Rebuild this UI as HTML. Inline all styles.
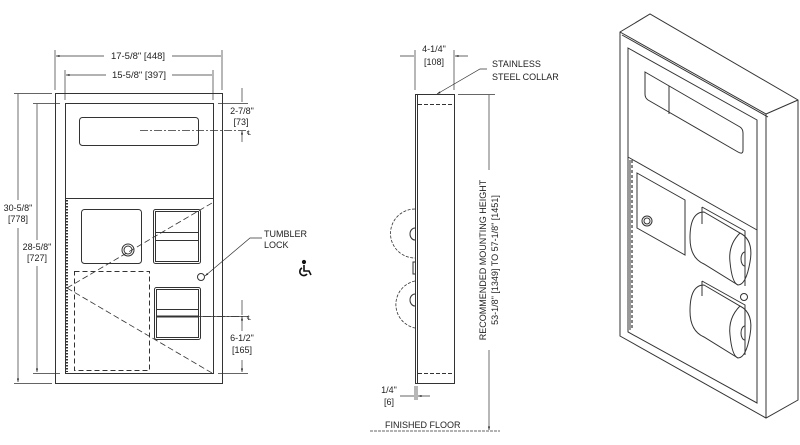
<!DOCTYPE html>
<html><head><meta charset="utf-8"><style>
html,body{margin:0;padding:0;background:#fff}
svg{display:block}
text{font-family:"Liberation Sans",Arial,sans-serif;font-size:9px;fill:#222}
</style></head><body>
<svg width="800" height="445" viewBox="0 0 800 445" xmlns="http://www.w3.org/2000/svg">
<defs>
<marker id="a" viewBox="0 0 10 10" refX="10" refY="5" markerWidth="7" markerHeight="5" orient="auto-start-reverse"><path d="M0,2 L10,5 L0,8z" fill="#222"/></marker>
</defs>
<g stroke="#333" fill="none" stroke-width="1">
<!-- FRONT VIEW -->
<rect x="55.5" y="93.5" width="167" height="290"/>
<rect x="65.5" y="103.5" width="148" height="270"/>
<rect x="79.5" y="117.5" width="119" height="28" rx="3"/>
<line x1="65" y1="198.5" x2="213" y2="198.5"/>
<line x1="67" y1="200" x2="67" y2="372" stroke-dasharray="1.5,1.5" stroke-width="2"/>
<rect x="81.5" y="209.5" width="60" height="54" rx="3"/>
<rect x="153.5" y="209.5" width="47" height="54" rx="2"/>
<rect x="155.5" y="211.5" width="43" height="50"/>
<line x1="155" y1="232.5" x2="199" y2="232.5"/><line x1="155" y1="240.5" x2="199" y2="240.5"/>
<circle cx="128" cy="250" r="6"/><circle cx="128" cy="250" r="4"/>
<rect x="74.5" y="271.5" width="75" height="99" stroke-dasharray="5,3"/>
<rect x="154.5" y="287.5" width="46" height="52" rx="2"/>
<rect x="156.5" y="289.5" width="42" height="48"/>
<line x1="156" y1="309.5" x2="199" y2="309.5"/><line x1="156" y1="316.5" x2="199" y2="316.5" stroke-width="2"/>
<circle cx="201" cy="277" r="3.5"/>
<path d="M67,288 L212,203 M67,288 L212,373" stroke-dasharray="6,3" stroke-width="0.8"/>
<!-- dims -->
<path d="M55,50 V90 M222,50 V90 M65,70 V100 M213,70 V100" stroke-width="0.7"/>
<path d="M56,56 H104 M221,56 H172" marker-start="url(#a)" stroke-width="0.7"/>
<path d="M66,75 H106 M212,75 H172" marker-start="url(#a)" stroke-width="0.7"/>
<path d="M14,93.5 H52 M33,103.5 H60 M14,383.5 H52 M33,373.5 H60 M218,103.5 H248 M218,373.5 H248 M200,316.5 H248" stroke-width="0.7"/>
<path d="M18,200 V94 M18,228 V382" marker-end="url(#a)" stroke-width="0.7"/>
<path d="M37,240 V104 M37,266 V372" marker-end="url(#a)" stroke-width="0.7"/>
<path d="M242,88 V102 M242,142 V131" marker-end="url(#a)" stroke-width="0.7"/>
<path d="M242,300 V315 M242,360 V372" marker-end="url(#a)" stroke-width="0.7"/>
<path d="M242,331 V317" marker-end="url(#a)" stroke-width="0.7"/>
<path d="M140,130.5 H246 M175,316.5 H245" stroke-dasharray="8,2,2,2" stroke-width="0.7"/>
<path d="M262,238 H250 L205,276" stroke-width="0.7" marker-end="url(#a)"/>
<!-- wheelchair icon -->
<g stroke="#111" stroke-width="1.6">
<circle cx="304" cy="262" r="1.3" fill="#111"/>
<path d="M304,265 V271 H309 L311,275"/>
<path d="M302,268 A4,4 0 1 0 307,274"/>
</g>
<!-- SIDE VIEW -->
<rect x="415.5" y="94.5" width="39" height="289"/>
<line x1="417.5" y1="95" x2="417.5" y2="383"/>
<path d="M418,104.5 H454 M418,373.5 H454" stroke-dasharray="4,2"/>
<path d="M415,209 A24,24 0 0 0 415,258 M415,281 A24,24 0 0 0 415,328" stroke-dasharray="3,1.5" stroke-width="0.8"/>
<path d="M415,228 a5,6 0 0 0 0,12 M415,294 a5,6 0 0 0 0,12 M415,262 h-2 v12 h2"/>
<path d="M415,50 V90 M454,50 V90" stroke-width="0.7"/>
<path d="M400,56 H414 M468,56 H455" marker-end="url(#a)" stroke-width="0.7"/>
<path d="M487,69 H480 L437,94" marker-end="url(#a)" stroke-width="0.7"/>
<path d="M458,94.5 H495" stroke-width="0.7"/>
<path d="M489,170 V95 M489,350 V430" marker-end="url(#a)" stroke-width="0.7"/>
<path d="M415,386 V400 M417,386 V400" stroke-width="0.7"/>
<path d="M400,396 H414 M430,396 H418" marker-end="url(#a)" stroke-width="0.7"/>
<line x1="370" y1="431" x2="500" y2="431" stroke-dasharray="3,1" stroke-width="0.8"/>
<!-- ISO VIEW -->
<path d="M620,32 L650,14 L798,100 L798,400 L766,418 L620,336 Z"/>
<path d="M620,32 L766,114 L766,418 M766,114 L798,100 M622,35 L768,117"/>
<path d="M628,48 L757,120 L757,403 L628,332 Z"/>
<path d="M645,72 L740,127 Q743,129 743,133 L743,150 Q743,155 738,152 L648,100 Q645,98 645,94 Z"/>
<line x1="669" y1="86" x2="669" y2="114"/>
<path d="M628,157 L757,230"/>
<line x1="632" y1="160" x2="632" y2="330" stroke-dasharray="3,2" stroke-width="1.2"/>
<line x1="630" y1="160" x2="630" y2="330"/>
<path d="M637,173 L685,200 L685,255 L637,228 Z"/>
<circle cx="647" cy="221" r="5"/><circle cx="647" cy="221" r="3"/>
<path d="M702,207 L745,231 L745,286 M702,207 V224"/>
<path d="M704,212 L740,233 Q754,240 750,262 Q746,285 738,285 L704,264 Q690,258 690,238 Q690,212 704,212 Z"/>
<path d="M740,233 Q728,245 730,262 Q732,283 738,285"/>
<path d="M745,252 a4,7 0 0 0 0,14"/>
<path d="M702,281 L745,305 L745,355 M702,281 V296"/>
<circle cx="744" cy="297" r="3.5"/>
<path d="M704,285 L740,306 Q754,313 750,335 Q746,358 738,358 L704,337 Q690,331 690,311 Q690,285 704,285 Z"/>
<path d="M740,306 Q728,318 730,335 Q732,356 738,358"/>
<path d="M745,326 a4,7 0 0 0 0,14"/>
</g>
<text x="138" y="59" text-anchor="middle" style="font-size:9.5px">17-5/8" [448]</text>
<text x="139" y="78" text-anchor="middle" style="font-size:9.5px">15-5/8" [397]</text>
<text x="18" y="211" text-anchor="middle">30-5/8"</text>
<text x="18" y="222" text-anchor="middle">[778]</text>
<text x="37" y="250" text-anchor="middle">28-5/8"</text>
<text x="37" y="261" text-anchor="middle">[727]</text>
<text x="242" y="114" text-anchor="middle">2-7/8"</text>
<text x="241" y="125" text-anchor="middle">[73]</text>
<text x="247" y="135" style="font-size:6px">℄</text>
<text x="247" y="320" style="font-size:6px">℄</text>
<text x="242" y="341" text-anchor="middle">6-1/2"</text>
<text x="242" y="353" text-anchor="middle">[165]</text>
<text x="264" y="237">TUMBLER</text>
<text x="264" y="248">LOCK</text>
<text x="434" y="52" text-anchor="middle">4-1/4"</text>
<text x="434" y="65" text-anchor="middle">[108]</text>
<text x="492" y="67">STAINLESS</text>
<text x="492" y="80">STEEL COLLAR</text>
<text transform="translate(486,260) rotate(-90)" text-anchor="middle">RECOMMENDED MOUNTING HEIGHT</text>
<text transform="translate(498,260) rotate(-90)" text-anchor="middle">53-1/8" [1349] TO 57-1/8" [1451]</text>
<text x="389" y="393" text-anchor="middle">1/4"</text>
<text x="389" y="405" text-anchor="middle">[6]</text>
<text x="385" y="428">FINISHED FLOOR</text>
</svg>
</body></html>
